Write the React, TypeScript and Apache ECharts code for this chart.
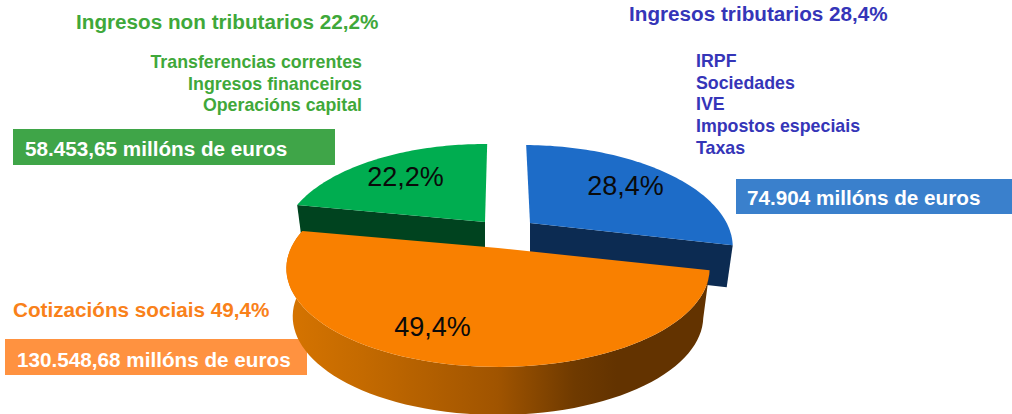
import React, { useEffect, useRef } from "react";
import * as echarts from "echarts";

// Data, clockwise from the top of the pie
const sliceNames = ["Ingresos tributarios", "Cotizacións sociais", "Ingresos non tributarios"];
const sliceShares = [28.4, 49.4, 22.2];
const sliceAmounts = ["74.904", "130.548,68", "58.453,65"];
const tributariosItems = ["IRPF", "Sociedades", "IVE", "Impostos especiais", "Taxas"];
const nonTributariosItems = ["Transferencias correntes", "Ingresos financeiros", "Operacións capital"];

const fmt = (v: number) => v.toFixed(1).replace(".", ",") + "%";

// Perspective projection of the pie disc
const RX = 207, RY = 94.2, K = 0.208;
const ORANGE_START = 13; // degrees, screen clockwise from +x
const project = (tDeg: number) => {
  const t = (tDeg * Math.PI) / 180;
  const u = Math.cos(t), v = Math.sin(t), d = 1 - K * v;
  return [(RX * u) / d, (RY * v) / d];
};

const sliceStyle = [
  { cx: 530, cy: 223, sx: 0.95, shear: 0.077, depth: 42, top: "#1d6cc8", wall: "#0c2b52", z: 1, lx: 625.5, ly: 186 },
  { cx: 498, cy: 248, sx: 1, shear: 0, depth: 48, top: "#f98000", wall: "", z: 3, lx: 432.5, ly: 327 },
  { cx: 485, cy: 222, sx: 0.96, shear: 0, depth: 43, top: "#00ad50", wall: "#00431f", z: 2, lx: 405.5, ly: 177 },
];

const renderSlice = (params: any, api: any) => {
  const i = params.dataIndex;
  const s = sliceStyle[i];
  const before = sliceShares.slice(0, i).reduce((a, b) => a + b, 0);
  const total = sliceShares.reduce((a, b) => a + b, 0);
  const start = ORANGE_START - (sliceShares[0] / total) * 360 + (before / total) * 360;
  const sweep = (api.value(0) / total) * 360;
  const n = 72;
  const rim: number[][] = [];
  for (let k = 0; k <= n; k++) rim.push(project(start + (sweep * k) / n));
  const tp = (p: number[]) => [s.cx + p[0] * s.sx + p[1] * s.shear, s.cy + p[1]];
  const bt = (p: number[]) => [s.cx + p[0] * s.sx * 0.97 + p[1] * s.shear, s.cy + p[1] + s.depth];
  const topFace = [[s.cx, s.cy], ...rim.map(tp)];
  const children: any[] = [];
  if (i === 1) {
    const wall = [...rim.map(tp), ...rim.slice().reverse().map(bt)];
    children.push({
      type: "polygon",
      z2: s.z * 10,
      shape: { points: wall },
      style: {
        fill: new echarts.graphic.LinearGradient(0, 0, 1, 0, [
          { offset: 0, color: "#d67400" },
          { offset: 0.18, color: "#c46a00" },
          { offset: 0.5, color: "#a05400" },
          { offset: 0.68, color: "#6f3a00" },
          { offset: 0.78, color: "#633300" },
          { offset: 1, color: "#633300" },
        ]),
      },
    });
  } else {
    // the straight cut wall that faces the viewer
    const cut = i === 0 ? rim[rim.length - 1] : rim[0];
    const wall = [[s.cx, s.cy], tp(cut), bt(cut), [s.cx, s.cy + s.depth]];
    children.push({ type: "polygon", z2: s.z * 10, shape: { points: wall }, style: { fill: s.wall } });
  }
  children.push({ type: "polygon", z2: s.z * 10 + 1, shape: { points: topFace }, style: { fill: s.top } });
  children.push({
    type: "text",
    z2: 100,
    style: {
      x: s.lx,
      y: s.ly,
      text: fmt(api.value(0)),
      fill: "#0a0a0a",
      font: '27px "Liberation Sans"',
      textAlign: "center",
      textVerticalAlign: "middle",
    },
  });
  return { type: "group", children };
};

const BOLD = (size: number) => `bold ${size}px "Liberation Sans"`;
const txt = (x: number, y: number, text: string, fill: string, size: number, align = "left") => ({
  type: "text",
  x,
  y,
  silent: true,
  style: { text, fill, font: BOLD(size), textAlign: align, textVerticalAlign: "middle" },
});
const bar = (x: number, y: number, width: number, height: number, fill: string) => ({
  type: "rect",
  silent: true,
  shape: { x, y, width, height },
  style: { fill },
});

const BLUE = "#3535b8", GREEN = "#3fa83a", ORANGE = "#f9811a";
const HEAD = 20.7, ITEM = 17.8;

export default function App() {
  const ref = useRef<HTMLDivElement>(null);
  useEffect(() => {
    document.body.style.margin = "0";
    const chart = echarts.init(ref.current!, undefined, { renderer: "svg" });
    chart.setOption({
      animation: false,
      backgroundColor: "#ffffff",
      series: [
        {
          type: "custom",
          coordinateSystem: "none",
          silent: true,
          renderItem: renderSlice,
          data: sliceShares.map((v) => [v]),
        },
      ],
      graphic: [
        txt(76, 21, `${sliceNames[2]} ${fmt(sliceShares[2])}`, GREEN, HEAD),
        ...nonTributariosItems.map((t, i) => txt(362, 62 + i * 21.7, t, GREEN, ITEM, "right")),
        bar(13, 129, 322, 36, "#3fa548"),
        txt(25, 148, `${sliceAmounts[2]} millóns de euros`, "#ffffff", HEAD),

        txt(629, 13, `${sliceNames[0]} ${fmt(sliceShares[0])}`, BLUE, HEAD),
        ...tributariosItems.map((t, i) => txt(696, 61 + i * 21.7, t, BLUE, ITEM)),
        bar(736, 179, 276, 35, "#3a80cc"),
        txt(747, 197, `${sliceAmounts[0]} millóns de euros`, "#ffffff", HEAD),

        txt(13, 309, `${sliceNames[1]} ${fmt(sliceShares[1])}`, ORANGE, HEAD),
        bar(5, 339, 302, 36, "#ff9240"),
        txt(17, 359, `${sliceAmounts[1]} millóns de euros`, "#ffffff", HEAD),
      ],
    });
    return () => chart.dispose();
  }, []);
  return <div ref={ref} style={{ width: 1012, height: 414 }} />;
}
